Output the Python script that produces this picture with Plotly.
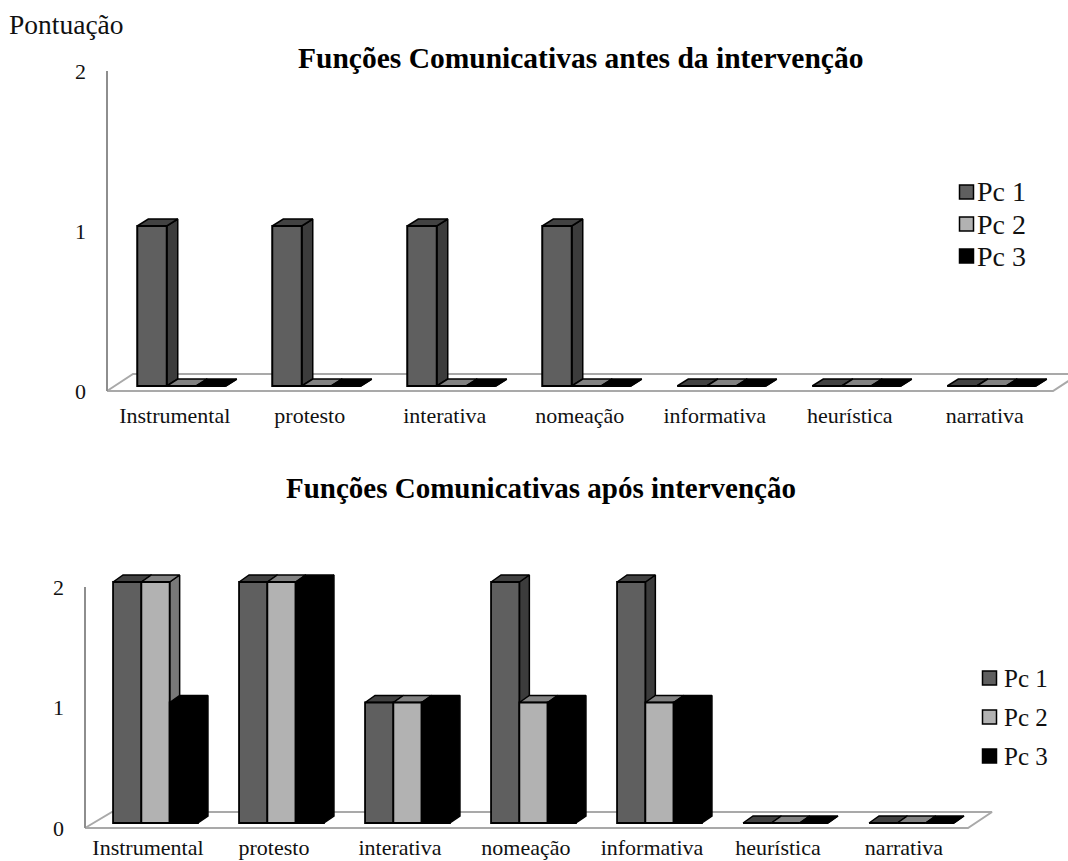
import plotly.graph_objects as go

categories = ["Instrumental", "protesto", "interativa", "nomeação", "informativa", "heurística", "narrativa"]
series_names = ["Pc 1", "Pc 2", "Pc 3"]

before_pc1 = [1, 1, 1, 1, 0, 0, 0]
before_pc2 = [0, 0, 0, 0, 0, 0, 0]
before_pc3 = [0, 0, 0, 0, 0, 0, 0]

after_pc1 = [2, 2, 1, 2, 2, 0, 0]
after_pc2 = [2, 2, 1, 1, 1, 0, 0]
after_pc3 = [1, 2, 1, 1, 1, 0, 0]

FRONT = ["#5f5f5f", "#b2b2b2", "#000000"]
SIDE = ["#3c3c3c", "#787878", "#000000"]
TOP = ["#424242", "#828282", "#000000"]
OUTLINE = "#000000"
FLOOR_LINE = "#a9a9a9"
WALL_LINE = "#8e8e8e"
SERIF = "Liberation Serif"

W, H = 1068, 861
fig = go.Figure()


def add_panel(values, axis_ids, geo):
    base_x, base_y, over_x, over_y = axis_ids
    step = geo["step"]
    unit = geo["unit"]
    px_x = lambda px: (px - geo["first_center"]) / step
    px_y = lambda px: (geo["zero_px"] - px) / unit
    dx = geo["depth_x"] / step
    dy = geo["depth_y"] / unit
    lift = geo["lift"] / unit
    w = geo["bar_w"] / step

    # floor plate and the vertical wall line
    fl, fr, fb_l, fb_r = geo["floor"]
    floor_rise = geo["floor_rise"] / unit
    fig.add_trace(go.Scatter(
        x=[px_x(fl), px_x(fr), px_x(fb_r), px_x(fb_l), px_x(fl)],
        y=[0, 0, floor_rise, floor_rise, 0],
        mode="lines", fill="toself", fillcolor="white",
        line=dict(color=FLOOR_LINE, width=2),
        xaxis=base_x, yaxis=base_y, hoverinfo="skip", showlegend=False))
    fig.add_trace(go.Scatter(
        x=[px_x(fl), px_x(fl)], y=[0, 2], mode="lines",
        line=dict(color=WALL_LINE, width=2),
        xaxis=base_x, yaxis=base_y, hoverinfo="skip", showlegend=False))

    # side and top faces sit under the front faces of the next series
    for s, vals in enumerate(values):
        sx, sy, tx, ty = [], [], [], []
        for i, v in enumerate(vals):
            left = i + (s - 1.5) * w
            right = left + w
            low = lift
            high = lift + v
            sx += [right, right + dx, right + dx, right, right, None]
            sy += [low, low + dy, high + dy, high, low, None]
            tx += [left, left + dx, right + dx, right, left, None]
            ty += [high, high + dy, high + dy, high, high, None]
        fig.add_trace(go.Scatter(
            x=sx, y=sy, mode="lines", fill="toself", fillcolor=SIDE[s],
            line=dict(color=OUTLINE, width=1.5),
            xaxis=base_x, yaxis=base_y, hoverinfo="skip", showlegend=False))
        fig.add_trace(go.Scatter(
            x=tx, y=ty, mode="lines", fill="toself", fillcolor=TOP[s],
            line=dict(color=OUTLINE, width=1.5),
            xaxis=base_x, yaxis=base_y, hoverinfo="skip", showlegend=False))

    # front faces on the overlaid axes
    for s, vals in enumerate(values):
        fig.add_trace(go.Bar(
            x=list(range(len(categories))), y=vals, name=series_names[s],
            base=lift, width=w, offset=(s - 1.5) * w,
            marker=dict(color=FRONT[s], line=dict(color=OUTLINE, width=geo["bar_line"])),
            xaxis=over_x, yaxis=over_y, showlegend=False))

    dom_top, dom_bottom = geo["dom_px"]
    y_dom = [1 - dom_bottom / H, 1 - dom_top / H]
    x_range = [px_x(0), px_x(W)]
    y_range = [px_y(dom_bottom), px_y(dom_top)]
    return dict(
        x_dom=[0, 1], y_dom=y_dom, x_range=x_range, y_range=y_range,
        tickvals=[i + geo["label_shift"] for i in range(len(categories))],
        y_pos=geo["tick_px"] / W)


top_geo = dict(
    step=135, unit=160, first_center=181.5, zero_px=391, lift=5,
    depth_x=11, depth_y=7, bar_w=29.5, floor=(107, 1053, 133, 1079), floor_rise=17,
    dom_px=(0, 400), tick_px=86, label_shift=-0.05, bar_line=2)
bottom_geo = dict(
    step=126, unit=120.5, first_center=155.5, zero_px=828, lift=5,
    depth_x=10, depth_y=7, bar_w=28.3, floor=(85, 968, 112, 992), floor_rise=16,
    dom_px=(440, 832), tick_px=64, label_shift=-0.06, bar_line=1.8)

p1 = add_panel([before_pc1, before_pc2, before_pc3], ("x", "y", "x3", "y3"), top_geo)
p2 = add_panel([after_pc1, after_pc2, after_pc3], ("x2", "y2", "x4", "y4"), bottom_geo)


def x_axis(p, anchor, overlay=None):
    ax = dict(domain=p["x_dom"], range=p["x_range"], anchor=anchor, showgrid=False,
              zeroline=False, showline=False, ticks="", automargin=False)
    if overlay:
        ax.update(overlaying=overlay, visible=False)
    else:
        ax.update(tickmode="array", tickvals=p["tickvals"], ticktext=categories,
                  tickangle=0, tickfont=dict(family=SERIF, size=22, color="#111111"))
    return ax


def y_axis(p, overlay=None):
    ax = dict(domain=p["y_dom"], range=p["y_range"], showgrid=False, zeroline=False,
              showline=False, ticks="", automargin=False)
    if overlay:
        ax.update(overlaying=overlay, visible=False)
    else:
        ax.update(anchor="free", position=p["y_pos"], tickmode="array", tickvals=[0, 1, 2],
                  ticktext=["0", "1", "2"],
                  tickfont=dict(family=SERIF, size=22, color="#111111"))
    return ax


annotations = [
    dict(text="Pontuação", x=8, y=25, font=dict(family=SERIF, size=27.5, color="#111111"), xanchor="left"),
    dict(text="<b>Funções Comunicativas antes da intervenção</b>", x=580, y=58,
         font=dict(family=SERIF, size=29.5, color="#000000"), xanchor="center"),
    dict(text="<b>Funções Comunicativas após intervenção</b>", x=541, y=488,
         font=dict(family=SERIF, size=29, color="#000000"), xanchor="center"),
]
shapes = []


def add_key(swatch_x, text_x, rows, size):
    for s, row_y in enumerate(rows):
        shapes.append(dict(
            type="rect", xref="paper", yref="paper",
            x0=swatch_x / W, x1=(swatch_x + 14) / W,
            y0=1 - (row_y + 7) / H, y1=1 - (row_y - 7) / H,
            fillcolor=FRONT[s], line=dict(color=OUTLINE, width=1.5)))
        annotations.append(dict(
            text=series_names[s], x=text_x, y=row_y,
            font=dict(family=SERIF, size=size, color="#111111"), xanchor="left"))


add_key(959.5, 976, [192, 224, 256], 28)
add_key(982.5, 1003, [678, 717, 756], 25)

for a in annotations:
    a.update(xref="paper", yref="paper", x=a["x"] / W, y=1 - a["y"] / H,
             yanchor="middle", showarrow=False, borderpad=0)

fig.update_layout(
    width=W, height=H, margin=dict(l=0, r=0, t=0, b=0),
    paper_bgcolor="white", plot_bgcolor="rgba(0,0,0,0)",
    barmode="overlay", showlegend=False, annotations=annotations, shapes=shapes,
    xaxis=x_axis(p1, "y"), yaxis=y_axis(p1),
    xaxis2=x_axis(p2, "y2"), yaxis2=y_axis(p2),
    xaxis3=x_axis(p1, "y3", "x"), yaxis3=y_axis(p1, "y"),
    xaxis4=x_axis(p2, "y4", "x2"), yaxis4=y_axis(p2, "y2"),
)

fig.write_html("out.html")
